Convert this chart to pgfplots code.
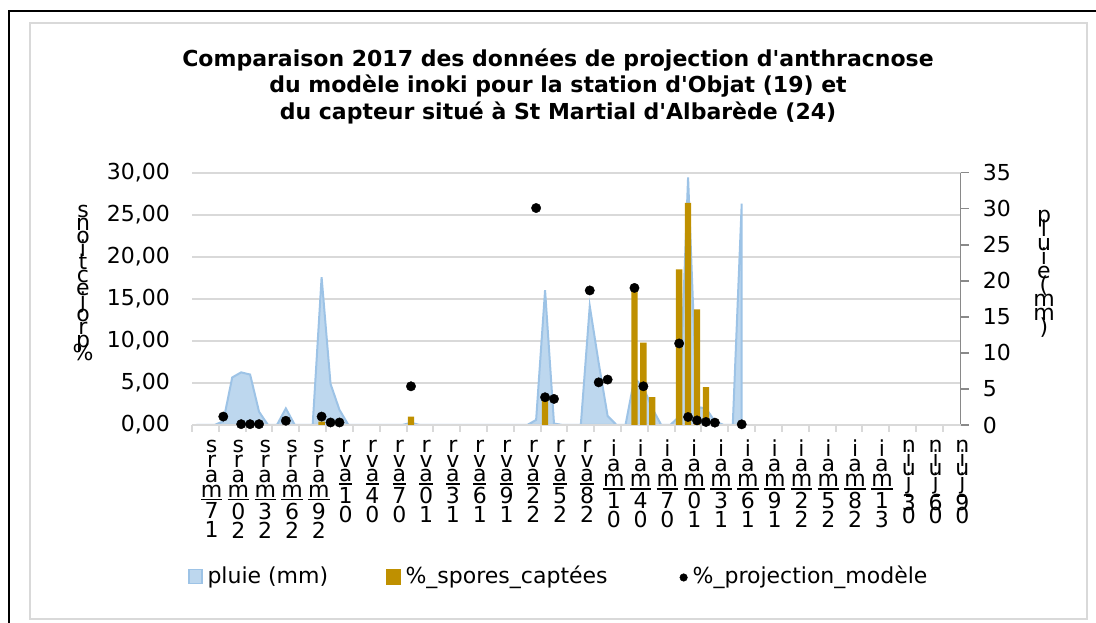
\documentclass[border=0pt]{standalone}
\usepackage{fontspec}
\setmainfont{DejaVu Sans}
\usepackage{pgfplots}
\pgfplotsset{compat=1.18}
\definecolor{gridgray}{HTML}{D9D9D9}
\definecolor{axgray}{HTML}{898989}
\definecolor{areafill}{HTML}{BDD7EE}
\definecolor{arealine}{HTML}{9DC3E6}
\definecolor{gold}{HTML}{BF9000}
\newcommand\f{\fontsize{22}{26}\selectfont}
\newcommand\stk[2][2.5pt]{\vbox{\baselineskip-1pt\lineskip#1\lineskiplimit0pt\halign{\hss##\hss\cr#2\crcr}}}
\newcommand\fstk[2]{\vtop{\baselineskip#1\lineskiplimit-100pt\lineskip0pt\halign{\hss##\hss\cr#2\crcr}}}
\newcommand\ul[1]{\vtop{\hbox{#1}\kern1.2pt\hrule height1.6pt}}
\newcommand\ma[2]{\stk{s\cr r\cr a\cr \ul{m}\cr #1\cr #2}}
\newcommand\av[2]{\stk{r\cr v\cr \ul{a}\cr #1\cr #2}}
\newcommand\mi[2]{\stk{i\cr a\cr \ul{m}\cr #1\cr #2}}
\newcommand\ju[2]{\stk[-3pt]{n\cr i\cr u\cr \ul{j}\cr #1\cr #2}}
\begin{document}
\begin{tikzpicture}
\path[use as bounding box] (0,0) rectangle (1096pt,623pt);
\draw[gridgray, line width=1.5pt] (30pt,4pt) rectangle (1087pt,600pt);
\draw[black, line width=1.5pt] (9pt,-1pt) -- (9pt,612pt) -- (1097pt,612pt);
% axis 1: grid and left labels
\begin{axis}[
  at={(192pt,198pt)}, anchor=south west, scale only axis,
  width=768.7pt, height=252.3pt,
  xmin=-1.5, xmax=84.5, ymin=0, ymax=30,
  axis x line=none, axis y line*=left,
  y axis line style={draw=none},
  ytick={0,5,...,30}, y tick style={draw=none},
  tick align=outside, major tick length=7pt,
  ymajorgrids, major grid style={draw=gridgray, line width=2pt},
  y tick label style={/pgf/number format/.cd, fixed, fixed zerofill, precision=2, use comma, assume math mode=true, /tikz/.cd, font=\f, inner sep=0pt, xshift=-15pt},
]
\addplot[draw=none] coordinates {(0,0)};
\end{axis}
% axis 2: rain, right axis, legend
\begin{axis}[
  at={(192pt,198pt)}, anchor=south west, scale only axis,
  width=768.7pt, height=252.3pt,
  xmin=-1.5, xmax=84.5, ymin=0, ymax=35,
  axis x line=none, axis y line*=right,
  y axis line style={draw=axgray, line width=1.5pt, -},
  ytick={0,5,...,35}, y tick style={draw=axgray, line width=1.5pt},
  tick align=outside, major tick length=8pt,
  y tick label style={/pgf/number format/assume math mode=true, font=\f, inner sep=0pt, xshift=14pt},
  legend columns=3,
  legend style={at={(-0.0052,-0.6064)}, anchor=west, draw=none, fill=none, inner sep=0pt, outer sep=0pt, font=\f,
    nodes={inner sep=0pt, text height=16pt, text depth=5pt},
    /tikz/every odd column/.append style={column sep=5pt},
    /tikz/column 2/.append style={column sep=58pt},
    /tikz/column 4/.append style={column sep=72pt},
    /tikz/column 5/.append style={column sep=8pt}},
]
\addplot[fill=areafill, draw=arealine, line width=2pt,
  legend image code/.code={\draw[fill=areafill, draw=arealine, line width=1.5pt] (0pt,-5.5pt) rectangle (13pt,8.5pt);}]
  coordinates {(-1,0)(0,0)(1,0)(2,0.5)(3,6.6)(4,7.3)(5,7.0)(6,1.85)(7,0)(8,0)(9,2.3)(10,0)(11,0)(12,0)(13,20.5)(14,5.7)(15,2.1)(16,0)(17,0)(18,0)(19,0)(20,0)(21,0)(22,0)(23,0.3)(24,0)(25,0)(26,0)(27,0)(28,0)(29,0)(30,0)(31,0)(32,0)(33,0)(34,0)(35,0)(36,0)(37,0.7)(38,18.7)(39,0.2)(40,0)(41,0)(42,0)(43,16.5)(44,8.6)(45,1.25)(46,0)(47,0)(48,6.5)(49,5.2)(50,2.3)(51,0)(52,0)(53,1.15)(54,34.35)(55,2.5)(56,2.3)(57,0.5)(58,0)(59,0)(60,30.7)} \closedcycle;
\addlegendentry{pluie (mm)}
\addlegendimage{legend image code/.code={\fill[gold] (0pt,-6pt) rectangle (14pt,9pt);}}
\addlegendentry{\%\_spores\_captées}
\addlegendimage{legend image code/.code={\fill[black] (0pt,0.5pt) circle (3.8pt);}}
\addlegendentry{\%\_projection\_modèle}
\end{axis}
% axis 3: bars, dots, x axis
\begin{axis}[
  at={(192pt,198pt)}, anchor=south west, scale only axis,
  width=768.7pt, height=252.3pt, clip=false,
  xmin=-1.5, xmax=84.5, ymin=0, ymax=30,
  axis x line*=bottom, axis y line=none,
  x axis line style={draw=gridgray, line width=2pt, -},
  xtick={-1.5,1.5,...,82.5},
  x tick style={draw=gridgray, line width=2pt},
  tick align=outside, major tick length=7pt,
  x tick label style={font=\f, anchor=north, inner sep=0pt, xshift=19.6pt, yshift=-8pt},
  xticklabels={{\ma71},{\ma02},{\ma32},{\ma62},{\ma92},
    {\av10},{\av40},{\av70},{\av01},{\av31},{\av61},{\av91},{\av22},{\av52},{\av82},
    {\mi10},{\mi40},{\mi70},{\mi01},{\mi31},{\mi61},{\mi91},{\mi22},{\mi52},{\mi82},{\mi13},
    {\ju30},{\ju60},{\ju90}},
]
\addplot[ybar, bar width=6.3pt, fill=gold, draw=none]
  coordinates {(13,0.4)(23,1.0)(38,3.0)(48,16.0)(49,9.8)(50,3.3)(53,18.5)(54,26.4)(55,13.75)(56,4.5)};
\addplot[only marks, mark=*, mark size=4.7pt, black]
  coordinates {(2,1.0)(4,0.1)(5,0.1)(6,0.1)(9,0.5)(13,1.0)(14,0.3)(15,0.3)(23,4.6)(37,25.8)(38,3.3)(39,3.1)(43,16.0)(44,5.07)(45,5.4)(48,16.3)(49,4.6)(53,9.7)(54,0.95)(55,0.55)(56,0.36)(57,0.28)(60,0.08)};
\end{axis}
% titles
\node[anchor=base, font=\bfseries\f] at (558pt,556.3pt) {Comparaison 2017 des données de projection d\textquotesingle anthracnose};
\node[anchor=base, font=\bfseries\f] at (558pt,530pt) {du modèle inoki pour la station d\textquotesingle Objat (19) et};
\node[anchor=base, font=\bfseries\f] at (558pt,503.7pt) {du capteur situé à St Martial d\textquotesingle Albarède (24)};
\node[anchor=north, inner sep=0pt, font=\f] at (83pt,418pt) {\fstk{13pt}{s\cr n\cr o\cr i\cr t\cr c\cr e\cr j\cr o\cr r\cr p\cr \%}};
\node[anchor=north, inner sep=0pt, font=\f] at (1044pt,413pt) {\fstk{14pt}{p\cr l\cr u\cr i\cr e\cr (\cr m\cr m\cr )}};
\end{tikzpicture}
\end{document}
